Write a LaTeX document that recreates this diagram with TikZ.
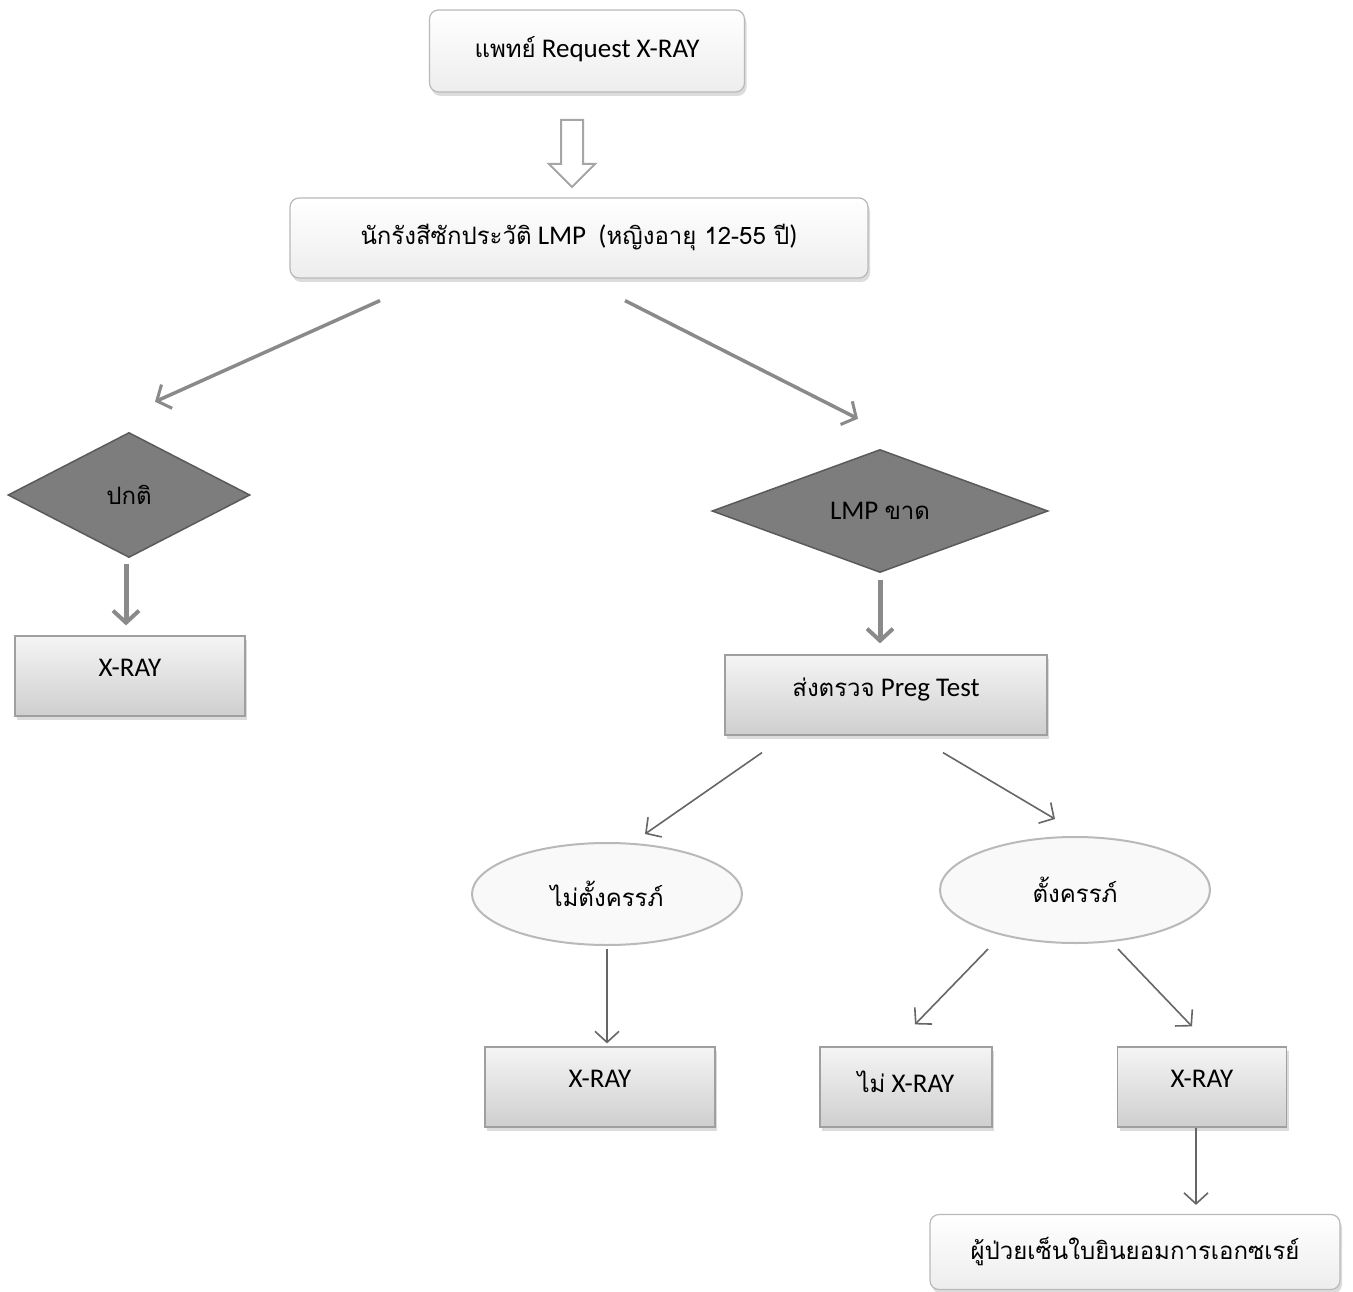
\documentclass[tikz,border=0pt]{standalone}
\usepackage{fontspec}
\setmainfont{Carlito}
\newfontfamily\thaifont[Script=Thai]{Loma}
\usetikzlibrary{shapes.geometric,shapes.arrows,arrows.meta,shadows,calc}
\newcommand\thx[1]{{\thaifont\fontsize{24}{30}\selectfont #1}}
\definecolor{arrgray}{HTML}{8A8A8A}
\definecolor{dia}{HTML}{7D7D7D}
\definecolor{diaedge}{HTML}{5A5A5A}
\tikzset{
  every node/.style={font=\fontsize{27}{32}\selectfont, text=black},
  roundbox/.style={rectangle, rounded corners=9pt, draw=gray!55, line width=1.2pt,
    top color=white, bottom color=gray!14, text depth=8pt,
    drop shadow={shadow xshift=2pt, shadow yshift=-4pt, fill=gray!45, opacity=0.6}},
  graybox/.style={rectangle, draw=gray!75, line width=1.2pt,
    top color=gray!8, bottom color=gray!38, text depth=16pt,
    drop shadow={shadow xshift=2pt, shadow yshift=-4pt, fill=gray!45, opacity=0.6}},
  decision/.style={diamond, aspect=2, inner sep=0pt, draw=diaedge, line width=1.5pt, fill=dia},
  oval/.style={ellipse, inner sep=0pt, draw=gray!55, line width=2pt, fill=gray!5},
  bigarr/.style={draw=arrgray, line width=3.5pt, -{Straight Barb[length=11pt, width=26pt, line width=3pt]}},
  midarr/.style={draw=arrgray, line width=5pt, -{Straight Barb[length=12pt, width=26pt, line width=4pt]}},
  thinarr/.style={draw=gray!80!black, line width=1.6pt, -{Straight Barb[length=11pt, width=24pt, line width=1.6pt]}},
}
\begin{document}
\begin{tikzpicture}[x=1pt, y=-1pt]
\fill[white] (0,0) rectangle (1353,1292);
\useasboundingbox (0,0) rectangle (1353,1292);

\node[roundbox, minimum width=315pt, minimum height=82pt] (top) at (587,51) {\thx{แพทย์} Request X-RAY};
\node[single arrow, shape border rotate=270, draw=gray!70, line width=2pt, fill=white,
  inner sep=10pt, minimum height=67pt, single arrow head extend=12pt, single arrow tip angle=90] (harr) at (572,148) {};
\node[roundbox, minimum width=578pt, minimum height=80pt] (lmp) at (579,238)
  {\thx{นักรังสีซักประวัติ} LMP\ \ (\thx{หญิงอายุ 12-55 ปี})};

\node[decision, minimum width=242pt, minimum height=125pt] (d1) at (129,495) {\thx{ปกติ}};
\node[decision, minimum width=336pt, minimum height=123pt] (d2) at (880,511) {LMP \thx{ขาด}};

\node[graybox, minimum width=230pt, minimum height=80pt] (xray1) at (130,676) {X-RAY};
\node[graybox, minimum width=322pt, minimum height=80pt] (preg) at (886,695) {\thx{ส่งตรวจ} Preg Test};

\node[oval, minimum width=270pt, minimum height=102pt] (e1) at (607,894) {\thx{ไม่ตั้งครรภ์}};
\node[oval, minimum width=270pt, minimum height=106pt] (e2) at (1075,890) {\thx{ตั้งครรภ์}};

\node[graybox, minimum width=230pt, minimum height=80pt] (xray2) at (600,1087) {X-RAY};
\node[graybox, minimum width=172pt, minimum height=80pt, text depth=10pt] (noxray) at (906,1087) {\thx{ไม่} X-RAY};
\node[graybox, minimum width=169pt, minimum height=80pt] (xray3) at (1202,1087) {X-RAY};

\node[roundbox, minimum width=410pt, minimum height=75pt] (consent) at (1135,1252) {\thx{ผู้ป่วยเซ็นใบยินยอมการเอกซเรย์}};

% connectors
\draw[bigarr] ([xshift=-199pt, yshift=-22pt]lmp.south) -- ([xshift=26pt, yshift=30pt]d1.north);
\draw[bigarr] ([xshift=46pt, yshift=-22pt]lmp.south) -- ([xshift=-22pt, yshift=30pt]d2.north);
\draw[midarr, shorten <=6pt, shorten >=10pt] ([xshift=-3pt]d1.south) -- ([xshift=-3pt]d1.south |- xray1.north);
\draw[midarr, shorten <=7pt, shorten >=11pt] (d2.south) -- (d2.south |- preg.north);
\draw[thinarr] ([xshift=-124pt, yshift=-17pt]preg.south) -- ([xshift=38pt, yshift=8pt]e1.north);
\draw[thinarr] ([xshift=57pt, yshift=-17pt]preg.south) -- ([xshift=-20pt, yshift=17pt]e2.north);
\draw[thinarr, shorten <=3pt, shorten >=3pt] (e1.south) -- (e1.south |- xray2.north);
\draw[thinarr] ([xshift=-87pt, yshift=-5pt]e2.south) -- ([xshift=9pt, yshift=22pt]noxray.north);
\draw[thinarr] ([xshift=43pt, yshift=-5pt]e2.south) -- ([xshift=-10pt, yshift=20pt]xray3.north);
\draw[thinarr, shorten >=9pt] ([xshift=-6pt]xray3.south) -- ([xshift=-6pt]xray3.south |- consent.north);
\end{tikzpicture}
\end{document}
